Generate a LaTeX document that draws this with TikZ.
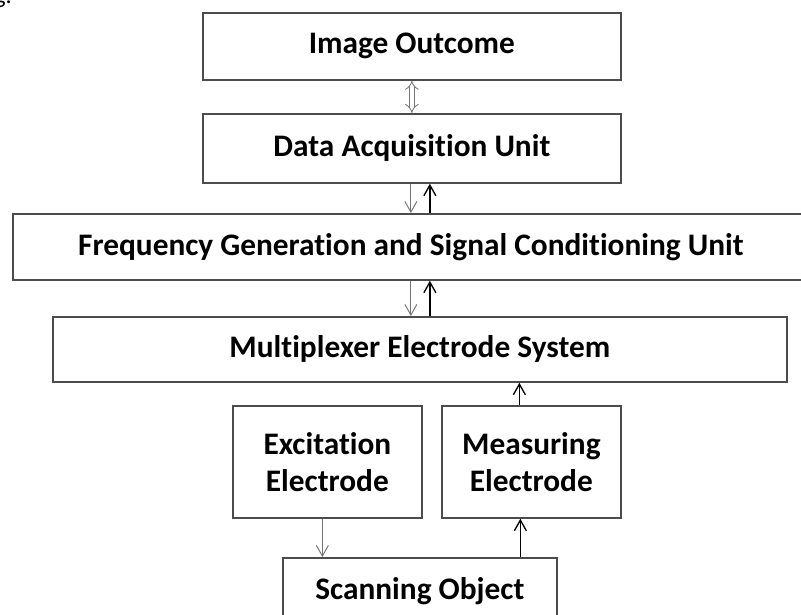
\documentclass[tikz,border=0pt]{standalone}
\usepackage{fontspec}
\setmainfont{Carlito}[Ligatures=NoCommon]
\usetikzlibrary{arrows.meta,calc}
\begin{document}
\begin{tikzpicture}[x=0.75pt,y=-0.75pt,
  blk/.style={draw=black!70, line width=1.3pt, fill=white, anchor=north west,
    inner sep=0pt, align=center, font=\bfseries\fontsize{23.5}{28}\selectfont},
  dnarrow/.style={draw=black!55, line width=0.7pt,
    -{Straight Barb[length=8pt,width=9pt,line width=0.7pt]}},
  uparrow/.style={draw=black, line width=1pt,
    -{Straight Barb[length=8pt,width=9pt,line width=1pt]}},
  dblarrow/.style={draw=black!55, double, double distance=3pt, line width=0.6pt,
    {Implies}-{Implies}}]
\useasboundingbox (0,0) rectangle (801,615);
\clip (0,0) rectangle (801,615);
\fill[white] (0,0) rectangle (801,615);

% caption fragment at the top edge
\node[anchor=base west, inner sep=0pt, font=\fontsize{18}{20}\selectfont] (cap) at (-6,3) {g.};

% blocks
\node[blk, minimum width=313.5pt, minimum height=50.25pt] (img) at (202,12) {Image Outcome};
\node[blk, minimum width=313.5pt, minimum height=51.75pt] (daq) at (202,113) {Data Acquisition Unit};
\node[blk, minimum width=597pt, minimum height=49.5pt] (freq) at (12,213) {Frequency Generation and Signal Conditioning Unit};
\node[blk, minimum width=550.5pt, minimum height=48.75pt] (mux) at (52,316) {Multiplexer Electrode System};
\node[blk, minimum width=141.75pt, minimum height=84pt] (exc) at (232,405) {Excitation\\Electrode};
\node[blk, minimum width=134.25pt, minimum height=84pt] (meas) at (441,405) {Measuring\\Electrode};
\node[blk, minimum width=205.5pt, minimum height=49.5pt] (scan) at (282,557) {Scanning Object};

% connectors
\draw[dblarrow] (img.south) -- (daq.north);

\coordinate (d1) at ($(daq.south)+(-1,0)$);
\coordinate (u1) at ($(daq.south)+(18,0)$);
\draw[dnarrow] (d1) -- (d1 |- freq.north);
\draw[uparrow] (u1 |- freq.north) -- (u1);

\coordinate (d2) at ($(freq.south)+(0,0)$);
\coordinate (u2) at ($(freq.south)+(19,0)$);
\draw[dnarrow] (d2) -- (d2 |- mux.north);
\draw[uparrow] (u2 |- mux.north) -- (u2);

\coordinate (u3) at ($(meas.north)+(-12,0)$);
\draw[uparrow] (u3) -- (u3 |- mux.south);

\coordinate (d4) at ($(exc.south)+(-5,0)$);
\draw[dnarrow] (d4) -- (d4 |- scan.north);

\coordinate (u4) at ($(meas.south)+(-11,0)$);
\draw[uparrow] (u4 |- scan.north) -- (u4);
\end{tikzpicture}
\end{document}
